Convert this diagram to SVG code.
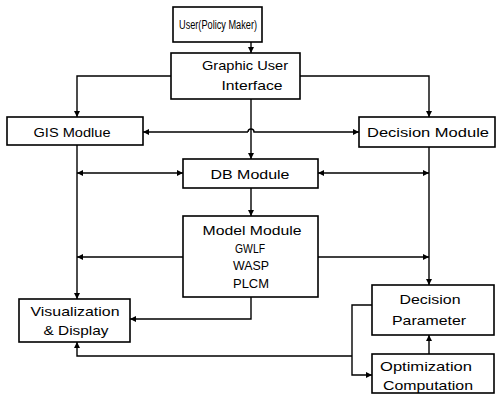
<svg xmlns="http://www.w3.org/2000/svg" width="496" height="397" viewBox="0 0 496 397">
<style>
.box{fill:#fff;stroke:#000;stroke-width:1.6}
.ln{fill:none;stroke:#000;stroke-width:1.4}
text{font-family:"Liberation Sans",Arial,sans-serif;font-size:13px;fill:#000;text-anchor:middle}
.sm{font-size:12px}
</style>
<defs>
<marker id="ah" viewBox="0 0 10 10" refX="10" refY="5" markerWidth="6" markerHeight="6" markerUnits="userSpaceOnUse" orient="auto">
<path d="M0,0 L10,5 L0,10 z" fill="#000"/>
</marker>
</defs>
<rect width="496" height="397" fill="#fff"/>
<g id="connectors">
<path class="ln" d="M251,42 V53" marker-end="url(#ah)"/>
<path class="ln" d="M171,76 H77 V117" marker-end="url(#ah)"/>
<path class="ln" d="M300,76 H429 V117" marker-end="url(#ah)"/>
<path class="ln" d="M248,132 H143" marker-end="url(#ah)"/>
<path class="ln" d="M248,132 A3,3 0 0 1 254,132 H359" marker-end="url(#ah)"/>
<path class="ln" d="M251,99 V159" marker-end="url(#ah)"/>
<path class="ln" d="M130,173 H77" marker-end="url(#ah)"/>
<path class="ln" d="M130,173 H183" marker-end="url(#ah)"/>
<path class="ln" d="M370,173 H318" marker-end="url(#ah)"/>
<path class="ln" d="M370,173 H429" marker-end="url(#ah)"/>
<path class="ln" d="M251,188 V216" marker-end="url(#ah)"/>
<path class="ln" d="M183,257 H77" marker-end="url(#ah)"/>
<path class="ln" d="M318,257 H429" marker-end="url(#ah)"/>
<path class="ln" d="M77,145 V299" marker-end="url(#ah)"/>
<path class="ln" d="M429,147 V285" marker-end="url(#ah)"/>
<path class="ln" d="M251,297 V319 H130" marker-end="url(#ah)"/>
<path class="ln" d="M429,354 V335" marker-end="url(#ah)"/>
<path class="ln" d="M372,305 H352 V375 H372" marker-end="url(#ah)"/>
<path class="ln" d="M352,356 H77 V342" marker-end="url(#ah)"/>
</g>
<g id="user">
<rect class="box" x="173" y="7" width="89" height="35"/>
<text class="sm" x="218" y="29" textLength="78" lengthAdjust="spacingAndGlyphs">User(Policy Maker)</text>
</g>
<g id="gui">
<rect class="box" x="171" y="53" width="129" height="46"/>
<text x="245" y="70" textLength="86" lengthAdjust="spacingAndGlyphs">Graphic User</text>
<text x="252" y="90" textLength="61" lengthAdjust="spacingAndGlyphs">Interface</text>
</g>
<g id="gis">
<rect class="box" x="7" y="117" width="136" height="28"/>
<text x="72" y="136.5" textLength="77" lengthAdjust="spacingAndGlyphs">GIS Modlue</text>
</g>
<g id="decision">
<rect class="box" x="359" y="117" width="136" height="30"/>
<text x="428" y="136.5" textLength="122" lengthAdjust="spacingAndGlyphs">Decision Module</text>
</g>
<g id="db">
<rect class="box" x="183" y="159" width="135" height="29"/>
<text x="250" y="178.5" textLength="79" lengthAdjust="spacingAndGlyphs">DB Module</text>
</g>
<g id="model">
<rect class="box" x="183" y="216" width="135" height="81"/>
<text x="252" y="234.5" textLength="99" lengthAdjust="spacingAndGlyphs">Model Module</text>
<text x="250" y="252.5" textLength="30" lengthAdjust="spacingAndGlyphs">GWLF</text>
<text x="251" y="270" textLength="36" lengthAdjust="spacingAndGlyphs">WASP</text>
<text x="251" y="287.5" textLength="36" lengthAdjust="spacingAndGlyphs">PLCM</text>
</g>
<g id="visualization">
<rect class="box" x="19" y="299" width="111" height="43"/>
<text x="75" y="315.5" textLength="89" lengthAdjust="spacingAndGlyphs">Visualization</text>
<text x="76" y="334.5" textLength="65" lengthAdjust="spacingAndGlyphs">&amp; Display</text>
</g>
<g id="decision-parameter">
<rect class="box" x="372" y="285" width="122" height="50"/>
<text x="430" y="304" textLength="61" lengthAdjust="spacingAndGlyphs">Decision</text>
<text x="429" y="325" textLength="74" lengthAdjust="spacingAndGlyphs">Parameter</text>
</g>
<g id="optimization">
<rect class="box" x="372" y="354" width="122" height="39"/>
<text x="426" y="370.5" textLength="92" lengthAdjust="spacingAndGlyphs">Optimization</text>
<text x="428" y="389.5" textLength="90" lengthAdjust="spacingAndGlyphs">Computation</text>
</g>
</svg>
